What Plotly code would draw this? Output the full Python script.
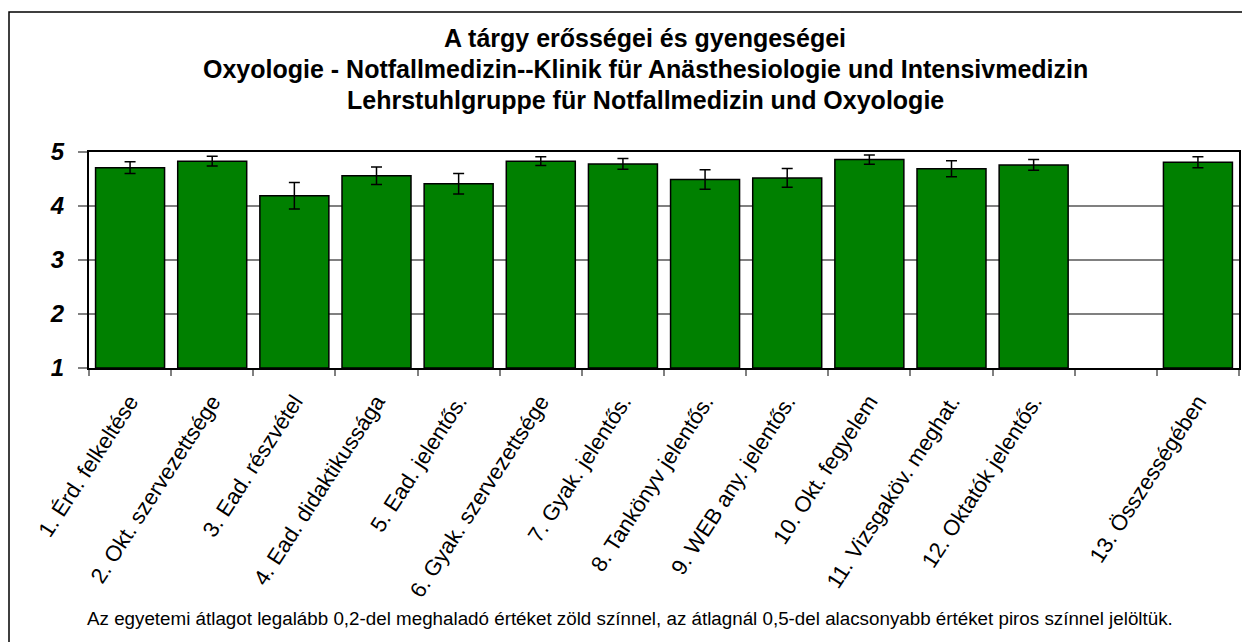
import plotly.graph_objects as go

categories = [
    "1. Érd. felkeltése",
    "2. Okt. szervezettsége",
    "3. Ead. részvétel",
    "4. Ead. didaktikussága",
    "5. Ead. jelentős.",
    "6. Gyak. szervezettsége",
    "7. Gyak. jelentős.",
    "8. Tankönyv jelentős.",
    "9. WEB any. jelentős.",
    "10. Okt. fegyelem",
    "11. Vizsgaköv. meghat.",
    "12. Oktatók jelentős.",
    " ",
    "13. Összességében",
]
means = [4.71, 4.83, 4.19, 4.56, 4.41, 4.83, 4.78, 4.49, 4.52, 4.86, 4.69, 4.76, None, 4.81]
errors = [0.11, 0.09, 0.245, 0.16, 0.19, 0.08, 0.10, 0.18, 0.175, 0.085, 0.15, 0.10, None, 0.10]
n_labels = ["n=58", "n=58", "n=58", "n=57", "n=57", "n=58", "n=57", "n=51", "n=57", "n=58", "n=58", "n=58", "", "n=58"]

title_lines = [
    "A tárgy erősségei és gyengeségei",
    "Oxyologie - Notfallmedizin--Klinik für Anästhesiologie und Intensivmedizin",
    "Lehrstuhlgruppe für Notfallmedizin und Oxyologie",
]
footnote = ("Az egyetemi átlagot legalább 0,2-del meghaladó értéket zöld színnel, "
            "az átlagnál 0,5-del alacsonyabb értéket piros színnel jelöltük.")

FONT = "Liberation Sans, Arial, sans-serif"
W, H = 1242, 642
L, R, T, B = 89, 3, 152, 274
plot_h = H - T - B


def py(pix):
    return (H - B - pix) / plot_h


def px(pix):
    return (pix - L) / (W - L - R)


fig = go.Figure()
fig.add_trace(go.Bar(
    x=categories,
    y=[(m - 1) if m is not None else None for m in means],
    base=1,
    marker=dict(color="#008000", line=dict(color="black", width=1.5)),
    error_y=dict(type="data", array=errors, visible=True, color="black", thickness=1.5, width=5.5),
    showlegend=False,
    hoverinfo="skip",
))

annotations = []
for c, t in zip(categories, n_labels):
    if t:
        annotations.append(dict(x=c, y=5.315, xref="x", yref="y", text=t, showarrow=False,
                                font=dict(family=FONT, size=14, color="black", weight="bold")))

for i, (line, ypix) in enumerate(zip(title_lines, [38, 69, 100])):
    annotations.append(dict(x=px(645), y=py(ypix), xref="paper", yref="paper", text=line,
                            showarrow=False, xanchor="center", yanchor="middle",
                            font=dict(family=FONT, size=25, color="black", weight="bold")))

annotations.append(dict(x=px(630), y=py(618), xref="paper", yref="paper", text=footnote,
                        showarrow=False, xanchor="center", yanchor="middle",
                        font=dict(family=FONT, size=18.8, color="black")))

fig.update_layout(
    width=W, height=H,
    margin=dict(l=L, r=R, t=T, b=B, autoexpand=False),
    paper_bgcolor="white", plot_bgcolor="white",
    bargap=0.16,
    annotations=annotations,
    shapes=[dict(type="rect", xref="paper", yref="paper",
                 x0=px(9), y0=py(650), x1=px(1250), y1=py(12),
                 line=dict(color="black", width=1.5), fillcolor="rgba(0,0,0,0)", layer="below")],
)
fig.update_xaxes(
    type="category", categoryorder="array", categoryarray=categories,
    showline=True, linecolor="black", linewidth=2, mirror=True,
    ticks="outside", tickson="boundaries", ticklen=6, tickcolor="#808080", tickwidth=1.5,
    tickangle=-57, ticklabelstandoff=10,
    tickfont=dict(family=FONT, size=22, color="black"),
    showgrid=False,
)
fig.update_yaxes(
    range=[1, 5], tickvals=[1, 2, 3, 4, 5], ticktext=["1", "2", "3", "4", "5"],
    showline=True, linecolor="black", linewidth=2, mirror=True,
    ticks="outside", ticklen=9, tickcolor="#808080", tickwidth=1.5, ticklabelstandoff=9,
    tickfont=dict(family=FONT, size=24, color="black", weight="bold", style="italic"),
    showgrid=True, gridcolor="#808080", gridwidth=1.5, zeroline=False,
)

fig.write_html("out.html", config={"displayModeBar": False},
               post_script="document.body.style.margin='0';document.body.style.overflow='hidden';")
